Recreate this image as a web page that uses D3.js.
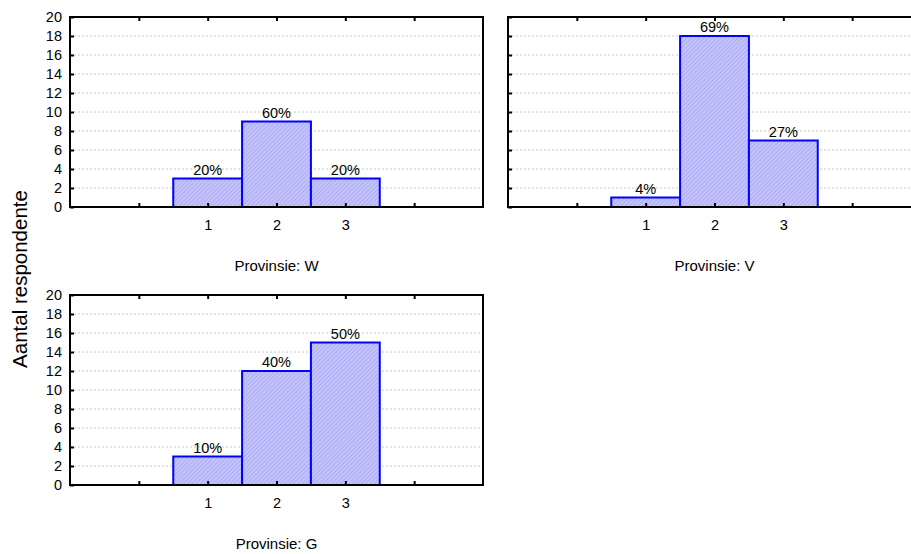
<!DOCTYPE html>
<html><head><meta charset="utf-8">
<script src="https://cdn.jsdelivr.net/npm/d3@7"></script>
<style>body{margin:0;background:#fff}svg{display:block;font-family:"Liberation Sans",Arial,sans-serif}</style>
</head><body>
<script>
const categories = [1, 2, 3];
const panelNames = ["Provinsie: W", "Provinsie: V", "Provinsie: G"];
const countsW = [3, 9, 3];
const countsV = [1, 18, 7];
const countsG = [3, 12, 15];
const pctW = ["20%", "60%", "20%"];
const pctV = ["4%", "69%", "27%"];
const pctG = ["10%", "40%", "50%"];
const yTicks = [0, 2, 4, 6, 8, 10, 12, 14, 16, 18, 20];
const xTicks = [0, 1, 2, 3, 4];
const yLabel = "Aantal respondente";

const W = 911, H = 554;
const svg = d3.select("body").append("svg").attr("width", W).attr("height", H);
const defs = svg.append("defs");
const pat = defs.append("pattern").attr("id", "hatch").attr("patternUnits", "userSpaceOnUse")
  .attr("width", 3).attr("height", 3).attr("patternTransform", "rotate(45)");
pat.append("rect").attr("width", 3).attr("height", 3).attr("fill", "#c4c4fa");
pat.append("line").attr("x1", 0).attr("y1", 0).attr("x2", 0).attr("y2", 3)
  .attr("stroke", "#9c9cf0").attr("stroke-width", 1.2);

const panels = [
  {name: panelNames[0], counts: countsW, pct: pctW, x0: 70, y0: 17, labels: true},
  {name: panelNames[1], counts: countsV, pct: pctV, x0: 508, y0: 17, labels: false},
  {name: panelNames[2], counts: countsG, pct: pctG, x0: 70, y0: 295, labels: true}
];
const pw = 413, ph = 190;
const fs = 14.5;

panels.forEach(p => {
  const g = svg.append("g").attr("transform", `translate(${p.x0},${p.y0})`);
  const x = d3.scaleLinear().domain([-1, 5]).range([0, pw]);
  const y = d3.scaleLinear().domain([0, 20]).range([ph, 0]);
  g.selectAll(".grid").data(yTicks.filter(v => v > 0 && v < 20)).enter().append("line")
    .attr("x1", 0).attr("x2", pw).attr("y1", d => y(d)).attr("y2", d => y(d))
    .attr("stroke", "#c8c8c8").attr("stroke-width", 1).attr("stroke-dasharray", "2,2");
  const data = categories.map((c, i) => ({c, v: p.counts[i], t: p.pct[i]}));
  g.selectAll(".bar").data(data).enter().append("rect")
    .attr("x", d => x(d.c - 0.5)).attr("width", d => x(d.c + 0.5) - x(d.c - 0.5))
    .attr("y", d => y(d.v)).attr("height", d => y(0) - y(d.v))
    .attr("fill", "url(#hatch)").attr("stroke", "#0000ff").attr("stroke-width", 2);
  g.selectAll(".lab").data(data).enter().append("text")
    .attr("x", d => x(d.c)).attr("y", d => y(d.v) - 4)
    .attr("text-anchor", "middle").attr("font-size", fs).attr("fill", "#000").text(d => d.t);
  g.append("rect").attr("x", 0).attr("y", 0).attr("width", pw).attr("height", ph)
    .attr("fill", "none").attr("stroke", "#000").attr("stroke-width", 2);
  const ya = d3.axisLeft(y).tickValues(yTicks).tickSizeInner(-4).tickSizeOuter(0).tickPadding(8)
    .tickFormat(p.labels ? d3.format("d") : () => "");
  const yg = g.append("g").call(ya);
  yg.select(".domain").remove();
  yg.selectAll("line").attr("stroke-width", 2);
  yg.selectAll("text").attr("font-size", fs).attr("font-family", "Liberation Sans, Arial, sans-serif").attr("fill", "#000");
  const xa = d3.axisBottom(x).tickValues(xTicks).tickSizeInner(-4).tickSizeOuter(0).tickPadding(13)
    .tickFormat(d => categories.includes(d) ? String(d) : "");
  const xg = g.append("g").attr("transform", `translate(0,${ph})`).call(xa);
  xg.select(".domain").remove();
  xg.selectAll("line").attr("stroke-width", 2);
  xg.selectAll("text").attr("font-size", fs).attr("font-family", "Liberation Sans, Arial, sans-serif").attr("fill", "#000");
  const ta = d3.axisTop(x).tickValues(xTicks).tickSizeInner(-4).tickSizeOuter(0).tickFormat(() => "");
  const tg = g.append("g").call(ta);
  tg.select(".domain").remove();
  tg.selectAll("line").attr("stroke-width", 2);
  g.append("text").attr("x", pw / 2).attr("y", ph + 64).attr("text-anchor", "middle")
    .attr("font-size", 15).attr("fill", "#000").text(p.name);
});

svg.append("text").attr("transform", "translate(27,279) rotate(-90)")
  .attr("text-anchor", "middle").attr("font-size", 20.5).attr("fill", "#000").text(yLabel);
</script>
</body></html>
